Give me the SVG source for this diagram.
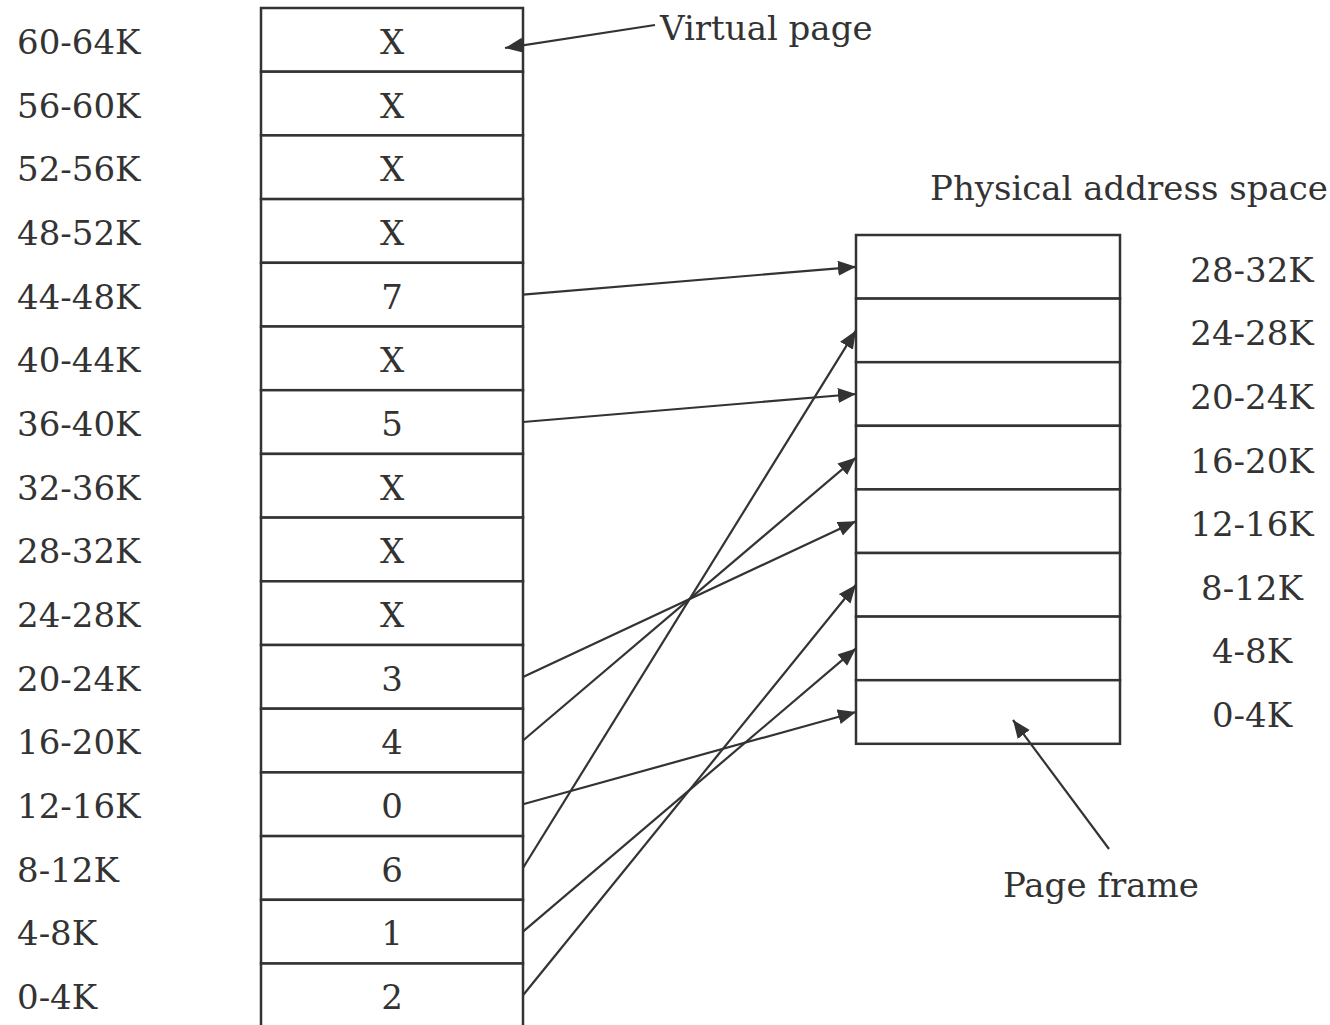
<svg xmlns="http://www.w3.org/2000/svg" width="1330" height="1025" viewBox="0 0 1330 1025">
  <style>
    text { font-family: "DejaVu Serif", "Liberation Serif", serif; font-size: 34px; fill: #333; }
    .mid { text-anchor: middle; }
    .cell { fill: #fff; stroke: #333; stroke-width: 2.5; }
    .conn line { stroke: #333; stroke-width: 2.2; marker-end: url(#head); }
  </style>
  <defs>
    <marker id="head" markerUnits="userSpaceOnUse" markerWidth="20" markerHeight="16" refX="18" refY="7.5" orient="auto">
      <path d="M0,0 L18,7.5 L0,15 z" fill="#333"/>
    </marker>
  </defs>
  <rect width="1330" height="1025" fill="#fff"/>

  <!-- Virtual address space: 16 pages of 4K, top row = 60-64K -->
  <g id="virtual-space">
    <g id="vp-15"><rect class="cell" x="261" y="8" width="262" height="63.7"/><text x="17" y="54">60-64K</text><text class="mid" x="392" y="54">X</text></g>
    <g id="vp-14"><rect class="cell" x="261" y="71.7" width="262" height="63.7"/><text x="17" y="118">56-60K</text><text class="mid" x="392" y="118">X</text></g>
    <g id="vp-13"><rect class="cell" x="261" y="135.4" width="262" height="63.7"/><text x="17" y="181">52-56K</text><text class="mid" x="392" y="181">X</text></g>
    <g id="vp-12"><rect class="cell" x="261" y="199.1" width="262" height="63.7"/><text x="17" y="245">48-52K</text><text class="mid" x="392" y="245">X</text></g>
    <g id="vp-11"><rect class="cell" x="261" y="262.8" width="262" height="63.7"/><text x="17" y="309">44-48K</text><text class="mid" x="392" y="309">7</text></g>
    <g id="vp-10"><rect class="cell" x="261" y="326.5" width="262" height="63.7"/><text x="17" y="372">40-44K</text><text class="mid" x="392" y="372">X</text></g>
    <g id="vp-9"><rect class="cell" x="261" y="390.2" width="262" height="63.7"/><text x="17" y="436">36-40K</text><text class="mid" x="392" y="436">5</text></g>
    <g id="vp-8"><rect class="cell" x="261" y="453.9" width="262" height="63.7"/><text x="17" y="500">32-36K</text><text class="mid" x="392" y="500">X</text></g>
    <g id="vp-7"><rect class="cell" x="261" y="517.6" width="262" height="63.7"/><text x="17" y="563">28-32K</text><text class="mid" x="392" y="563">X</text></g>
    <g id="vp-6"><rect class="cell" x="261" y="581.3" width="262" height="63.7"/><text x="17" y="627">24-28K</text><text class="mid" x="392" y="627">X</text></g>
    <g id="vp-5"><rect class="cell" x="261" y="645" width="262" height="63.7"/><text x="17" y="691">20-24K</text><text class="mid" x="392" y="691">3</text></g>
    <g id="vp-4"><rect class="cell" x="261" y="708.7" width="262" height="63.7"/><text x="17" y="754">16-20K</text><text class="mid" x="392" y="754">4</text></g>
    <g id="vp-3"><rect class="cell" x="261" y="772.4" width="262" height="63.7"/><text x="17" y="818">12-16K</text><text class="mid" x="392" y="818">0</text></g>
    <g id="vp-2"><rect class="cell" x="261" y="836.1" width="262" height="63.7"/><text x="17" y="882">8-12K</text><text class="mid" x="392" y="882">6</text></g>
    <g id="vp-1"><rect class="cell" x="261" y="899.8" width="262" height="63.7"/><text x="17" y="945">4-8K</text><text class="mid" x="392" y="945">1</text></g>
    <g id="vp-0"><rect class="cell" x="261" y="963.5" width="262" height="63.7"/><text x="17" y="1009">0-4K</text><text class="mid" x="392" y="1009">2</text></g>
  </g>

  <!-- Physical address space: 8 page frames -->
  <g id="physical-space">
    <text x="930" y="200">Physical address space</text>
    <g id="pf-7"><rect class="cell" x="856" y="235" width="264" height="63.6"/><text class="mid" x="1252" y="282">28-32K</text></g>
    <g id="pf-6"><rect class="cell" x="856" y="298.6" width="264" height="63.6"/><text class="mid" x="1252" y="345">24-28K</text></g>
    <g id="pf-5"><rect class="cell" x="856" y="362.2" width="264" height="63.6"/><text class="mid" x="1252" y="409">20-24K</text></g>
    <g id="pf-4"><rect class="cell" x="856" y="425.8" width="264" height="63.6"/><text class="mid" x="1252" y="473">16-20K</text></g>
    <g id="pf-3"><rect class="cell" x="856" y="489.4" width="264" height="63.6"/><text class="mid" x="1252" y="536">12-16K</text></g>
    <g id="pf-2"><rect class="cell" x="856" y="553" width="264" height="63.6"/><text class="mid" x="1252" y="600">8-12K</text></g>
    <g id="pf-1"><rect class="cell" x="856" y="616.6" width="264" height="63.6"/><text class="mid" x="1252" y="663">4-8K</text></g>
    <g id="pf-0"><rect class="cell" x="856" y="680.2" width="264" height="63.6"/><text class="mid" x="1252" y="727">0-4K</text></g>
  </g>

  <!-- Callout labels -->
  <g id="label-virtual-page"><text x="660" y="40">Virtual page</text></g>
  <g id="label-page-frame"><text x="1003" y="897">Page frame</text></g>

  <!-- Page table mappings and callout pointers -->
  <g id="connectors" class="conn">
    <line x1="523" y1="294.6" x2="856" y2="266.8"/>
    <line x1="523" y1="422" x2="856" y2="394"/>
    <line x1="523" y1="677" x2="856" y2="521.2"/>
    <line x1="523" y1="740.5" x2="856" y2="457.6"/>
    <line x1="523" y1="804.2" x2="856" y2="712"/>
    <line x1="523" y1="868" x2="856" y2="330.4"/>
    <line x1="523" y1="931.6" x2="856" y2="648.4"/>
    <line x1="523" y1="995.3" x2="856" y2="584.8"/>
    <line x1="655" y1="25" x2="505" y2="48"/>
    <line x1="1109" y1="849" x2="1013" y2="720"/>
  </g>
</svg>
